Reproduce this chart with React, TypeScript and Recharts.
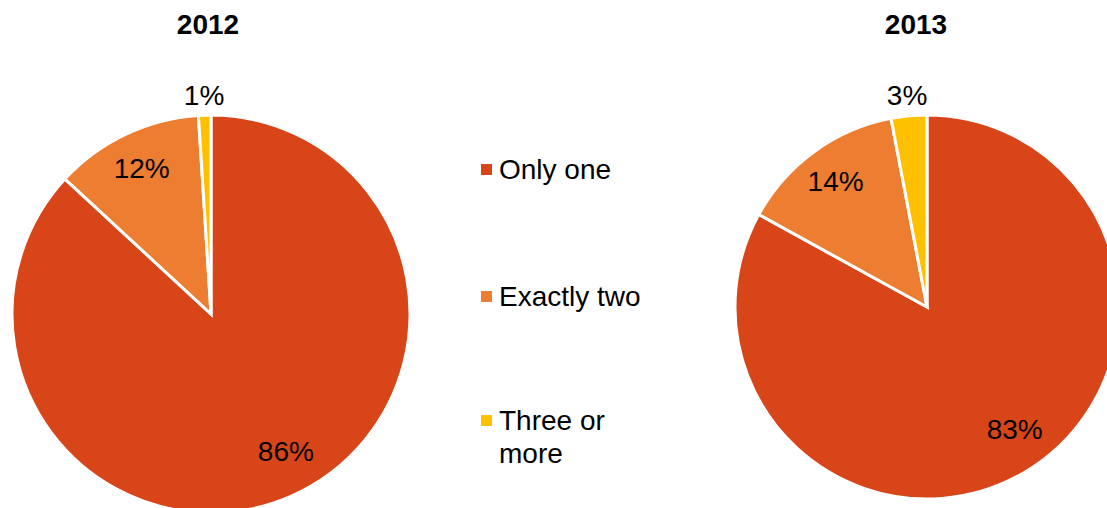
import { PieChart, Pie, Cell } from "recharts"

const categories = ["Only one", "Exactly two", "Three or more"]
const values2012 = [86, 12, 1]
const values2013 = [83, 14, 3]
const years = ["2012", "2013"]
const colors = ["#D84519", "#ED7D31", "#FFC000"]

const FONT = "'Liberation Sans', Arial, sans-serif"
const RADIAN = Math.PI / 180

const data2012 = categories.map((name, i) => ({ name, value: values2012[i] }))
const data2013 = categories.map((name, i) => ({ name, value: values2013[i] }))

function renderLabel(props: any) {
  const { cx, cy, midAngle, outerRadius, value } = props
  // small slices sit outside, the big one is nudged toward the right like Excel does
  let r = outerRadius * 0.81
  let angle = midAngle
  if (value < 5) r = outerRadius + 20
  if (value > 50) {
    r = outerRadius * 0.785
    angle = midAngle + 5
  }
  const x = cx + r * Math.cos(-angle * RADIAN)
  const y = cy + r * Math.sin(-angle * RADIAN)
  return (
    <text x={x} y={y} fill="#000" fontSize={28} fontFamily={FONT} textAnchor="middle" dominantBaseline="central">
      {`${value}%`}
    </text>
  )
}

function LegendBox() {
  const items = [
    { top: 164, lines: ["Only one"] },
    { top: 291, lines: ["Exactly two"] },
    { top: 415, lines: ["Three or", "more"] },
  ]
  return (
    <>
      {items.map((it, i) => (
        <div key={categories[i]}>
          <div style={{ position: "absolute", left: 481, top: it.top, width: 11, height: 11, background: colors[i] }} />
          <div
            style={{
              position: "absolute",
              left: 499,
              top: it.top - 11,
              fontFamily: FONT,
              fontSize: 28,
              lineHeight: "33px",
              color: "#000",
            }}
          >
            {it.lines.map((l) => (
              <div key={l}>{l}</div>
            ))}
          </div>
        </div>
      ))}
    </>
  )
}

export default function App() {
  return (
    <div style={{ position: "absolute", left: 0, top: 0, width: 1107, height: 508, background: "#fff", overflow: "hidden" }}>
      <PieChart width={1107} height={508} margin={{ top: 0, right: 0, bottom: 0, left: 0 }}>
        <Pie
          data={data2012}
          dataKey="value"
          cx={211}
          cy={314}
          outerRadius={199}
          startAngle={90}
          endAngle={-270}
          stroke="#fff"
          strokeWidth={3}
          label={renderLabel}
          labelLine={false}
          isAnimationActive={false}
        >
          {data2012.map((d, i) => (
            <Cell key={d.name} fill={colors[i]} />
          ))}
        </Pie>
        <Pie
          data={data2013}
          dataKey="value"
          cx={927}
          cy={307}
          outerRadius={192}
          startAngle={90}
          endAngle={-270}
          stroke="#fff"
          strokeWidth={3}
          label={renderLabel}
          labelLine={false}
          isAnimationActive={false}
        >
          {data2013.map((d, i) => (
            <Cell key={d.name} fill={colors[i]} />
          ))}
        </Pie>
      </PieChart>
      {years.map((y, i) => (
        <div
          key={y}
          style={{
            position: "absolute",
            left: i === 0 ? 108 : 816,
            width: 200,
            top: 7,
            textAlign: "center",
            fontFamily: FONT,
            fontWeight: "bold",
            fontSize: 28,
            lineHeight: "36px",
            color: "#000",
          }}
        >
          {y}
        </div>
      ))}
      <LegendBox />
    </div>
  )
}
